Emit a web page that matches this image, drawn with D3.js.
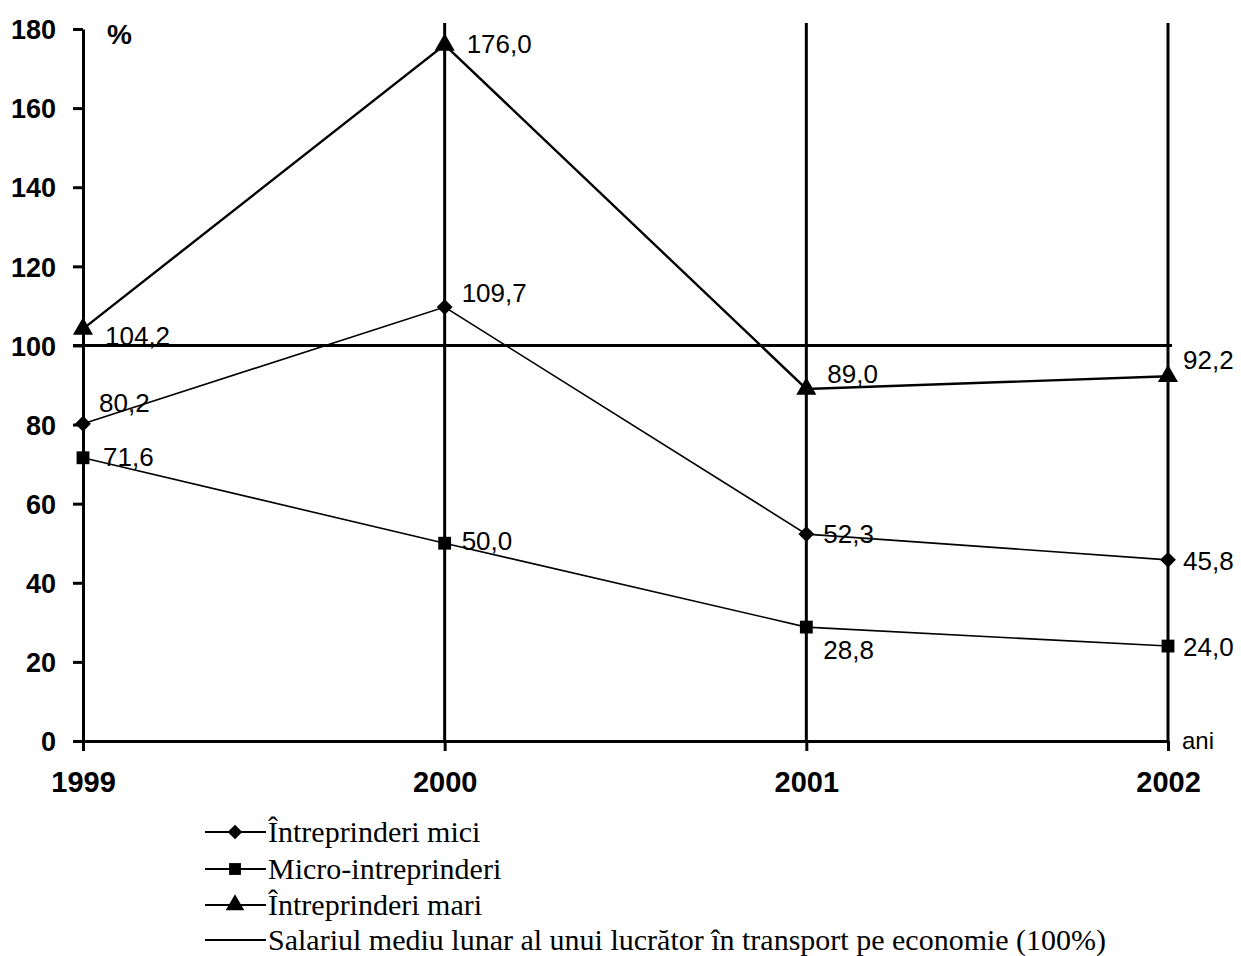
<!DOCTYPE html>
<html>
<head>
<meta charset="utf-8">
<script src="https://cdn.jsdelivr.net/npm/d3@7"></script>
<style>
  html, body { margin: 0; padding: 0; background: #fff; }
  svg { display: block; }
</style>
</head>
<body>
<svg id="chart" width="1241" height="956"></svg>
<script>
// Salariul mediu lunar pe categorii de întreprinderi (% din media pe economie)
const years = ["1999", "2000", "2001", "2002"];
const yTicks = [0, 20, 40, 60, 80, 100, 120, 140, 160, 180];
const mici  = [80.2, 109.7, 52.3, 45.8];
const micro = [71.6, 50.0, 28.8, 24.0];
const mari  = [104.2, 176.0, 89.0, 92.2];
const reference = 100;
const seriesNames = ["Întreprinderi mici", "Micro-intreprinderi", "Întreprinderi mari"];
const referenceName = "Salariul mediu lunar al unui lucrător în transport pe economie (100%)";

const svg = d3.select("#chart");
const ink = "#000";
const sans = "Liberation Sans, Arial, sans-serif";

const x = d3.scalePoint().domain(years).range([83, 1168]);
const y = d3.scaleLinear().domain([0, 180]).range([741, 29]);

const fmt = v => v.toFixed(1).replace(".", ",");

// y axis with ticks pointing left
const yAxis = d3.axisLeft(y).tickValues(yTicks).tickSize(10).tickPadding(17).tickSizeOuter(0);
const gy = svg.append("g").attr("transform", "translate(83,0)").call(yAxis);
gy.select(".domain").attr("stroke", ink).attr("stroke-width", 3);
gy.selectAll(".tick line").attr("stroke", ink).attr("stroke-width", 3);
gy.selectAll(".tick text")
  .attr("font-family", sans)
  .attr("font-weight", "bold").attr("font-size", 27).attr("fill", ink)
  .attr("dy", "0.36em");

// x axis baseline with year labels
const xAxis = d3.axisBottom(x).tickSize(10).tickPadding(20).tickSizeOuter(0);
const gx = svg.append("g").attr("transform", `translate(0,${y(0)})`).call(xAxis);
gx.select(".domain").attr("stroke", ink).attr("stroke-width", 3);
gx.selectAll(".tick line").attr("stroke", ink).attr("stroke-width", 3);
gx.selectAll(".tick text")
  .attr("font-family", sans)
  .attr("font-weight", "bold").attr("font-size", 29).attr("fill", ink)
  .attr("dy", "0.71em");

// vertical year lines
svg.append("g").selectAll("line").data(years.slice(1)).join("line")
  .attr("x1", d => x(d)).attr("x2", d => x(d))
  .attr("y1", y(180) - 6).attr("y2", y(0))
  .attr("stroke", ink).attr("stroke-width", 3);

// reference line (100%)
svg.append("line")
  .attr("x1", x(years[0]) - 10).attr("x2", x(years[3]) + 4)
  .attr("y1", y(reference)).attr("y2", y(reference))
  .attr("stroke", ink).attr("stroke-width", 3);

// unit labels
svg.append("text").attr("x", 107).attr("y", 44).text("%")
  .attr("font-family", sans)
  .attr("font-weight", "bold").attr("font-size", 28).attr("fill", ink);
svg.append("text").attr("x", 1182).attr("y", 749).text("ani")
  .attr("font-family", sans)
  .attr("font-size", 24).attr("fill", ink);

const symbols = [d3.symbolSquare, d3.symbolSquare, d3.symbolTriangle];
const symbolRotate = [45, 0, 0];
const symbolSizes = [125, 165, 175];
const lineWidths = [1.6, 1.6, 2.4];
const allSeries = [mici, micro, mari];

// label placement: [dx, dy] per point, relative to the marker
const labelShift = [
  [[16, -12], [17, -5], [17, 9], [15, 10]],
  [[20, 8], [17, 7], [17, 32], [15, 10]],
  [[22, 16], [22, 8], [21, -6], [15, -7]]
];

const line = d3.line().x((d, i) => x(years[i])).y(d => y(d));

allSeries.forEach((vals, s) => {
  svg.append("path").datum(vals).attr("d", line)
    .attr("fill", "none").attr("stroke", ink).attr("stroke-width", lineWidths[s]);
  svg.append("g").selectAll("path").data(vals).join("path")
    .attr("transform", (d, i) => `translate(${x(years[i])},${y(d)}) rotate(${symbolRotate[s]})`)
    .attr("d", d3.symbol().type(symbols[s]).size(symbolSizes[s]))
    .attr("fill", ink);
  svg.append("g").selectAll("text").data(vals).join("text")
    .attr("x", (d, i) => x(years[i]) + labelShift[s][i][0])
    .attr("y", (d, i) => y(d) + labelShift[s][i][1])
    .text(d => fmt(d))
    .attr("font-family", sans)
    .attr("font-size", 26).attr("fill", ink);
});

// legend
const legend = svg.append("g").attr("transform", "translate(205,0)");
const rowsY = [832, 869, 905, 940];
const legendItems = seriesNames.map((n, i) => ({ name: n, sym: symbols[i], rot: symbolRotate[i], size: symbolSizes[i] * 0.85 }))
  .concat([{ name: referenceName, sym: null }]);
legendItems.forEach((it, i) => {
  const g = legend.append("g").attr("transform", `translate(0,${rowsY[i]})`);
  g.append("line").attr("x1", 0).attr("x2", 61).attr("stroke", ink).attr("stroke-width", 2.2);
  if (it.sym) g.append("path").attr("transform", `translate(30,0) rotate(${it.rot})`)
    .attr("d", d3.symbol().type(it.sym).size(it.size)).attr("fill", ink);
  g.append("text").attr("x", 63).attr("y", 10).text(it.name)
    .attr("font-family", "Liberation Serif, Times New Roman, serif")
    .attr("font-size", 30).attr("fill", ink);
});
</script>
</body>
</html>
